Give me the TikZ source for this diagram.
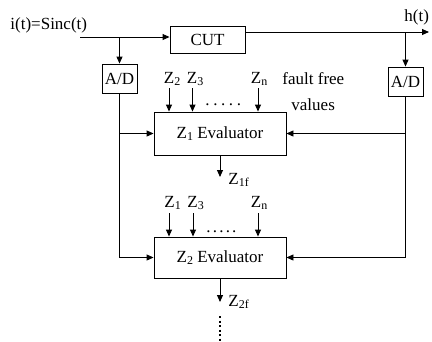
\documentclass[tikz,border=0pt]{standalone}
\usepackage{fontspec}
\setmainfont{Liberation Serif}
\usetikzlibrary{arrows.meta}
\newcommand\zsub[1]{\raisebox{-2.5pt}{\fontsize{12}{12}\selectfont #1}}
\begin{document}
\begin{tikzpicture}[x=1pt,y=-1pt, line width=0.9pt,
  every node/.style={font=\fontsize{17}{20}\selectfont},
  blk/.style={draw, inner sep=0pt},
  lbl/.style={anchor=base west, inner sep=0pt},
  arr/.style={-{Triangle[length=7pt,width=6pt]}}]
\useasboundingbox (0,0) rectangle (432,341);
% blocks
\node[blk, minimum width=75pt, minimum height=26.5pt] (cut) at (207.5,40) {CUT};
\node[blk, minimum width=35pt, minimum height=29pt] (adL) at (119.5,78.5) {A/D};
\node[blk, minimum width=35pt, minimum height=29pt] (adR) at (405.5,81.5) {A/D};
\node[blk, minimum width=132pt, minimum height=43pt] (z1) at (220,133.5) {Z\zsub{1} Evaluator};
\node[blk, minimum width=132pt, minimum height=41pt] (z2) at (220,257.5) {Z\zsub{2} Evaluator};
% texts
\node[lbl] (inl) at (10,29) {i(t)=Sinc(t)};
\node[lbl] (outl) at (404,21) {h(t)};
\node[lbl] (ff1) at (282,84) {fault free};
\node[lbl] (ff2) at (291,110) {values};
\node[lbl] (la2) at (163.5,83) {Z\zsub{2}};
\node[lbl] (la3) at (186.5,83) {Z\zsub{3}};
\node[lbl] (lan) at (250.5,83) {Z\zsub{n}};
\node[lbl] (da) at (205,105) {.\hspace{3.6pt}.\hspace{3.6pt}.\hspace{3.6pt}.\hspace{3.6pt}.};
\node[lbl] (lb1) at (164,207) {Z\zsub{1}};
\node[lbl] (lb3) at (187,207) {Z\zsub{3}};
\node[lbl] (lbn) at (250.5,207) {Z\zsub{n}};
\node[lbl] (db) at (206,232) {.\hspace{2.2pt}.\hspace{2.2pt}.\hspace{2.2pt}.\hspace{2.2pt}.};
\node[lbl] (l1f) at (228,184) {Z\zsub{1f}};
\node[lbl] (l2f) at (228,306) {Z\zsub{2f}};
% coordinates
\coordinate (in) at (80,37);
\coordinate (out) at (429,32);
\coordinate (a1) at (169,88);
\coordinate (a2) at (192.5,88);
\coordinate (a3) at (258,88);
\coordinate (b1) at (169,213);
\coordinate (b2) at (193,213);
\coordinate (b3) at (258,213);
\coordinate (z1f) at (220,177);
\coordinate (z2f) at (220,302);
\coordinate (vd1) at (220,316);
\coordinate (vd2) at (220,341);
% connectors
\draw[arr] (in) -- (in -| cut.west);
\draw[arr] (in -| adL.north) -- (adL.north);
\draw[arr] (cut.east |- out) -- (out);
\draw[arr] (out -| adR.north) -- (adR.north);
\draw[arr] (adL.south) |- (z2.west);
\draw[arr] (adL.south |- z1.west) -- (z1.west);
\draw[arr] (adR.south) |- (z2.east);
\draw[arr] (adR.south |- z1.east) -- (z1.east);
\foreach \c in {a1,a2,a3} \draw[arr] (\c) -- (\c |- z1.north);
\foreach \c in {b1,b2,b3} \draw[arr] (\c) -- (\c |- z2.north);
\draw[arr] (z1.south) -- (z1f);
\draw[arr] (z2.south) -- (z2f);
\draw[line width=2pt, dash pattern=on 2pt off 2.5pt] (vd1) -- (vd2);
\end{tikzpicture}
\end{document}
